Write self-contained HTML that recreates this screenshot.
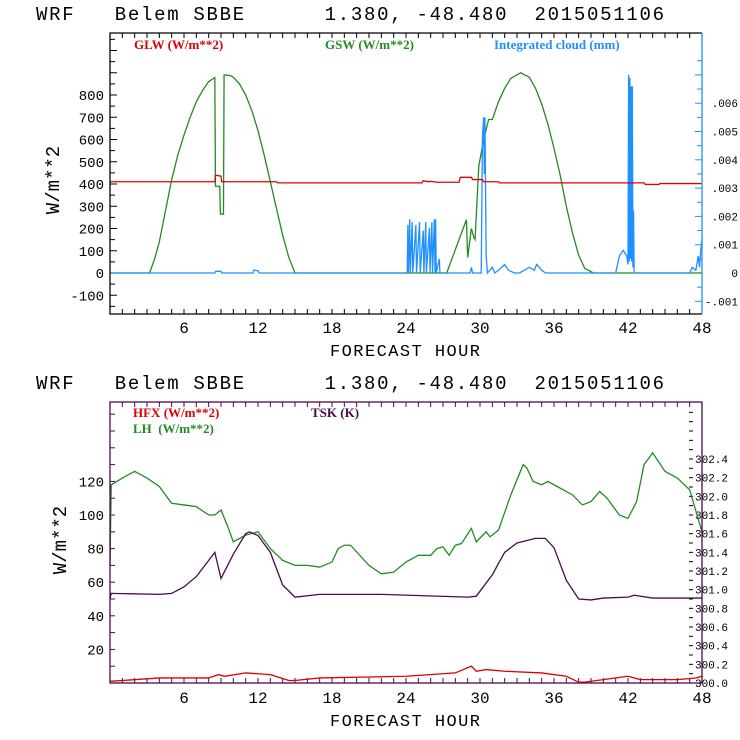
<!DOCTYPE html>
<html><head><meta charset="utf-8">
<style>
html,body{margin:0;padding:0;background:#fff;}
svg{display:block;}
.mono{font-family:"Liberation Mono",monospace;}
.serif{font-family:"Liberation Serif",serif;font-weight:bold;}
.pre{white-space:pre;}
</style></head>
<body>
<svg id="chart" width="740" height="740" viewBox="0 0 740 740" xmlns="http://www.w3.org/2000/svg">
<rect width="740" height="740" fill="#fff"/>
</svg>
<script>
// ---------- Top panel data ----------
const xTicks = [6, 12, 18, 24, 30, 36, 42, 48];
const topYTicks = [-100, 0, 100, 200, 300, 400, 500, 600, 700, 800];
const cloudTicks = [-0.001, 0, 0.001, 0.002, 0.003, 0.004, 0.005, 0.006];
const cloudTickLabels = ['-.001', '0', '.001', '.002', '.003', '.004', '.005', '.006'];
const gswHours = [0, 3.2, 3.6, 4, 4.5, 5, 5.5, 6, 6.5, 7, 7.5, 8, 8.5, 8.55, 8.9, 8.95, 9.2, 9.25, 9.7, 10, 10.5, 11, 11.5, 12, 12.5, 13, 13.5, 14, 14.5, 15, 27.3, 28.9, 29.0, 29.3, 29.5, 29.6, 29.9, 30.3, 30.7, 31, 31.5, 32, 32.5, 33.3, 34, 34.5, 35, 35.5, 36, 36.5, 37, 37.5, 38, 38.5, 39.2, 48];
const gswValues = [0, 0, 60, 140, 280, 420, 530, 620, 700, 770, 820, 860, 878, 390, 390, 265, 265, 890, 888, 880, 850, 800, 730, 640, 530, 410, 290, 170, 70, 0, 0, 240, 70, 200, 160, 150, 480, 600, 690, 690, 770, 830, 875, 900, 880, 830, 760, 670, 560, 440, 300, 180, 80, 20, 0, 0];
const glwHours = [0, 8.5, 8.55, 9, 9.05, 13.5, 13.6, 25.3, 25.4, 25.8, 25.9, 26.3, 26.5, 28.3, 28.4, 29.3, 29.4, 30.2, 30.3, 31.5, 31.6, 43.3, 43.4, 44.5, 44.6, 48];
const glwValues = [410, 410, 440, 435, 410, 410, 405, 405, 415, 410, 412, 410, 408, 408, 430, 430, 420, 420, 410, 410, 405, 405, 398, 398, 402, 402];
const cloudHours = [0, 8.5, 8.55, 9, 9.05, 11.6, 11.65, 12, 12.1, 24.1, 24.15, 24.2, 24.3, 24.35, 24.5, 24.55, 24.8, 24.85, 25.1, 25.15, 25.4, 25.45, 25.6, 25.65, 25.9, 25.95, 26.1, 26.15, 26.3, 26.35, 26.4, 26.45, 26.7, 26.75, 29.2, 29.3, 29.4, 30.1, 30.2, 30.3, 30.35, 30.4, 30.5, 30.6, 31, 31.2, 31.5, 32, 32.3, 32.8, 33.2, 34, 34.4, 34.6, 35, 35.3, 41, 41.3, 41.6, 41.9, 42.0, 42.05, 42.1, 42.15, 42.2, 42.25, 42.3, 42.35, 42.4, 42.45, 42.5, 47, 47.2, 47.5, 47.7, 47.8, 47.9, 48];
const cloudValues = [0, 0, 0.00006, 0.00006, 0, 0, 0.0001, 0.00008, 0, 0, 0.0017, 0, 0.0019, 0, 0.0018, 0, 0.0017, 0, 0.0018, 0, 0.0015, 0, 0.0018, 0, 0.0016, 0, 0.0018, 0, 0.0019, 0, 0.0019, 0, 0.0005, 0, 0, 0.0002, 0, 0, 0.0048, 0.0055, 0.0035, 0.0055, 0.0006, 0, 0.0002, 0, 0.0001, 0.0003, 0.0001, 0, 0, 0.0002, 0.0001, 0.0003, 0.0001, 0, 0, 0.0006, 0.0008, 0.0006, 0.0003, 0.007, 0.0004, 0.0069, 0.0005, 0.0066, 0.0004, 0.0066, 0.0002, 0.0022, 0, 0, 0.0002, 0.0001, 0.0006, 0.0002, 0.0008, 0.0012];

// ---------- Bottom panel data ----------
const botYTicks = [20, 40, 60, 80, 100, 120];
const tskTicks = [300.0, 300.2, 300.4, 300.6, 300.8, 301.0, 301.2, 301.4, 301.6, 301.8, 302.0, 302.2, 302.4];
const lhHours = [0, 0.1, 1, 2, 3, 4, 5, 6, 7, 8, 8.5, 9, 9.5, 10, 11, 12, 13, 14, 15, 16, 17, 18, 18.5, 19, 19.5, 21, 22, 23, 24, 25, 26, 26.5, 27, 27.5, 28, 28.5, 29.3, 29.7, 30.5, 30.8, 31.5, 32.5, 33.5, 33.8, 34.3, 35, 35.5, 36.5, 37.5, 38.3, 39, 39.7, 40.3, 40.7, 41.3, 42, 42.7, 43.3, 44, 45, 46, 47, 48];
const lhValues = [70, 118, 122, 126, 122, 117, 107, 106, 105, 100, 100, 103, 94, 84, 88, 90, 80, 73, 70, 70, 69, 72, 80, 82, 82, 70, 65, 66, 72, 76, 76, 80, 81, 76, 82, 83, 92, 84, 90, 87, 91, 112, 130, 128, 120, 118, 120, 116, 112, 106, 108, 114, 110, 106, 100, 98, 108, 130, 137, 126, 122, 115, 90];
const hfxHours = [0, 4, 8, 8.8, 9.3, 11, 13, 14.5, 15, 17, 24, 28, 29.3, 29.7, 30.5, 32, 35, 37, 38, 38.5, 40, 42, 43, 46, 47.5, 48];
const hfxValues = [1, 3, 3, 5, 4, 6, 5, 1.5, 1.5, 3, 4, 6, 10, 7, 8, 7, 6, 4, 0.5, 0.5, 2, 4, 2, 2, 3, 4];
const tskHours = [0, 0.1, 4, 5, 6, 7, 8.5, 9, 10, 11, 11.3, 12, 13, 14, 15, 17, 22, 29, 29.7, 31, 32, 33, 34.5, 35.3, 36, 37, 38, 39, 40, 42, 42.5, 44, 48];
const tskValues = [300.9, 300.96, 300.95, 300.96, 301.03, 301.14, 301.4, 301.12, 301.38, 301.6, 301.62, 301.58, 301.4, 301.05, 300.92, 300.95, 300.95, 300.92, 300.93, 301.16, 301.4, 301.5, 301.55, 301.55, 301.45, 301.1, 300.9, 300.89, 300.91, 300.92, 300.94, 300.91, 300.91];

const svg = document.getElementById('chart');
const NS = 'http://www.w3.org/2000/svg';
function mk(tag, attrs, parent) {
  const e = document.createElementNS(NS, tag);
  for (const k in attrs) e.setAttribute(k, attrs[k]);
  (parent || svg).appendChild(e);
  return e;
}
function txt(s, x, y, cls, fill, size, anchor, parent) {
  const t = mk('text', {x: x, y: y, 'class': cls, fill: fill, 'font-size': size, 'text-anchor': anchor || 'start'}, parent);
  t.textContent = s;
  return t;
}

const X0 = 110, X1 = 702;
const xS = h => X0 + h * (X1 - X0) / 48;
const T_TOP = 33, T_BOT = 314;
const yTop = v => 273 - v * 0.2225;
const yCloud = v => 273 - v * 28300;
const B_TOP = 402, B_BOT = 683;
const yBot = v => 683 - v * 1.68;
const yTsk = v => 683 - (v - 300) * 93.33;

function line(hours, vals, ys, color, name, parent) {
  const pts = hours.map((h, i) => xS(h).toFixed(2) + ',' + ys(vals[i]).toFixed(2)).join(' ');
  const p = mk('polyline', {points: pts, fill: 'none', stroke: color, 'stroke-width': 1.3}, parent);
  
  
}

// ---------- Titles ----------
[[20, 'top'], [389, 'bottom']].forEach(([y, w]) => {
  const t = txt('WRF   Belem SBBE      1.380, -48.480  2015051106', 36, y, 'mono pre', '#000', 19);
  t.setAttribute('textLength', 628);
  
  
});

// ---------- Top panel ----------
const gT = mk('g', {});


for (let h = 0; h <= 48; h++) {
  mk('line', {x1: xS(h), y1: T_BOT, x2: xS(h), y2: T_BOT - 5, stroke: '#000'}, gT);
  mk('line', {x1: xS(h), y1: T_TOP, x2: xS(h), y2: T_TOP + 5, stroke: '#000'}, gT);
}
xTicks.forEach(h => {
  const t = txt(String(h), xS(h), 333, 'mono', '#000', 16, 'middle', gT);
  
  
});
const xt1 = txt('FORECAST HOUR', 405, 356, 'mono', '#000', 17, 'middle', gT);
xt1.setAttribute('textLength', 150);


for (let v = -150; v <= 1050; v += 50) {
  const y = yTop(v);
  if (y < T_TOP || y > T_BOT) continue;
  mk('line', {x1: X0, y1: y, x2: X0 + (v % 100 === 0 ? 7 : 5), y2: y, stroke: '#000'}, gT);
}
topYTicks.forEach(v => {
  const t = txt(String(v), 104, yTop(v) + 5, 'mono', '#000', 14, 'end', gT);
  
  
});
const yt1 = txt('W/m**2', 0, 0, 'mono', '#000', 19, 'middle', gT);
yt1.setAttribute('transform', 'translate(59,180) rotate(-90)');


for (let k = -3; k <= 15; k++) {
  const v = k * 0.0005;
  const y = yCloud(v);
  if (y < T_TOP || y > T_BOT) continue;
  mk('line', {x1: X1, y1: y, x2: X1 - (k % 2 === 0 ? 7 : 5), y2: y, stroke: '#1e90ff'}, gT);
}
cloudTicks.forEach((v, i) => {
  const t = txt(cloudTickLabels[i], 738, yCloud(v) + 4, 'mono', '#000', 11, 'end', gT);
  
  
});
line(gswHours, gswValues, yTop, '#228b22', 'gsw-line', gT);
line(cloudHours, cloudValues, yCloud, '#1e90ff', 'integrated-cloud-line', gT);
line(glwHours, glwValues, yTop, '#dd0000', 'glw-line', gT);
mk('polyline', {points: `${X1},${T_TOP} ${X0},${T_TOP} ${X0},${T_BOT} ${X1},${T_BOT}`, fill: 'none', stroke: '#000', 'stroke-width': 1.3}, gT);
mk('line', {x1: X1, y1: T_TOP, x2: X1, y2: T_BOT, stroke: '#1e90ff', 'stroke-width': 1.3}, gT);
[['GLW (W/m**2)', 134, '#dd0000', 'legend-glw'], ['GSW (W/m**2)', 325, '#228b22', 'legend-gsw'], ['Integrated cloud (mm)', 494, '#1e90ff', 'legend-cloud']].forEach(([s, x, c, n]) => {
  const t = txt(s, x, 49, 'serif', c, 13, 'start', gT);
  
  
});

// ---------- Bottom panel ----------
const gB = mk('g', {});


const PUR = '#4b0a4b';
for (let h = 0; h <= 48; h++) {
  mk('line', {x1: xS(h), y1: B_BOT, x2: xS(h), y2: B_BOT - 5, stroke: PUR}, gB);
  mk('line', {x1: xS(h), y1: B_TOP, x2: xS(h), y2: B_TOP + 5, stroke: PUR}, gB);
}
xTicks.forEach(h => {
  const t = txt(String(h), xS(h), 703, 'mono', '#000', 16, 'middle', gB);
  
  
});
const xt2 = txt('FORECAST HOUR', 405, 726, 'mono', '#000', 17, 'middle', gB);
xt2.setAttribute('textLength', 150);


for (let v = 10; v <= 160; v += 10) {
  mk('line', {x1: X0, y1: yBot(v), x2: X0 + 5, y2: yBot(v), stroke: PUR}, gB);
}
botYTicks.forEach(v => {
  const t = txt(String(v), 104, yBot(v) + 5, 'mono', '#000', 14, 'end', gB);
  
  
});
const yt2 = txt('W/m**2', 0, 0, 'mono', '#000', 19, 'middle', gB);
yt2.setAttribute('transform', 'translate(66,540) rotate(-90)');


for (let k = 0; k <= 30; k++) {
  const v = 300 + k * 0.1;
  const y = yTsk(v);
  if (y < B_TOP + 5) continue;
  mk('line', {x1: 689, y1: y, x2: 693, y2: y, stroke: '#000'}, gB);
}
tskTicks.forEach(v => {
  const t = txt(v.toFixed(1), 695, yTsk(v) + 4, 'mono', '#000', 11, 'start', gB);
  
  
});
line(lhHours, lhValues, yBot, '#228b22', 'lh-line', gB);
line(tskHours, tskValues, yTsk, PUR, 'tsk-line', gB);
line(hfxHours, hfxValues, yBot, '#dd0000', 'hfx-line', gB);
mk('rect', {x: X0, y: B_TOP, width: X1 - X0, height: B_BOT - B_TOP, fill: 'none', stroke: PUR, 'stroke-width': 1.3}, gB);
[['HFX (W/m**2)', 133, 417, '#dd0000', 'legend-hfx'], ['LH  (W/m**2)', 133, 433, '#228b22', 'legend-lh'], ['TSK (K)', 311, 417, PUR, 'legend-tsk']].forEach(([s, x, y, c, n]) => {
  const t = txt(s, x, y, 'serif pre', c, 13, 'start', gB);
  
  
});
</script>
</body></html>
